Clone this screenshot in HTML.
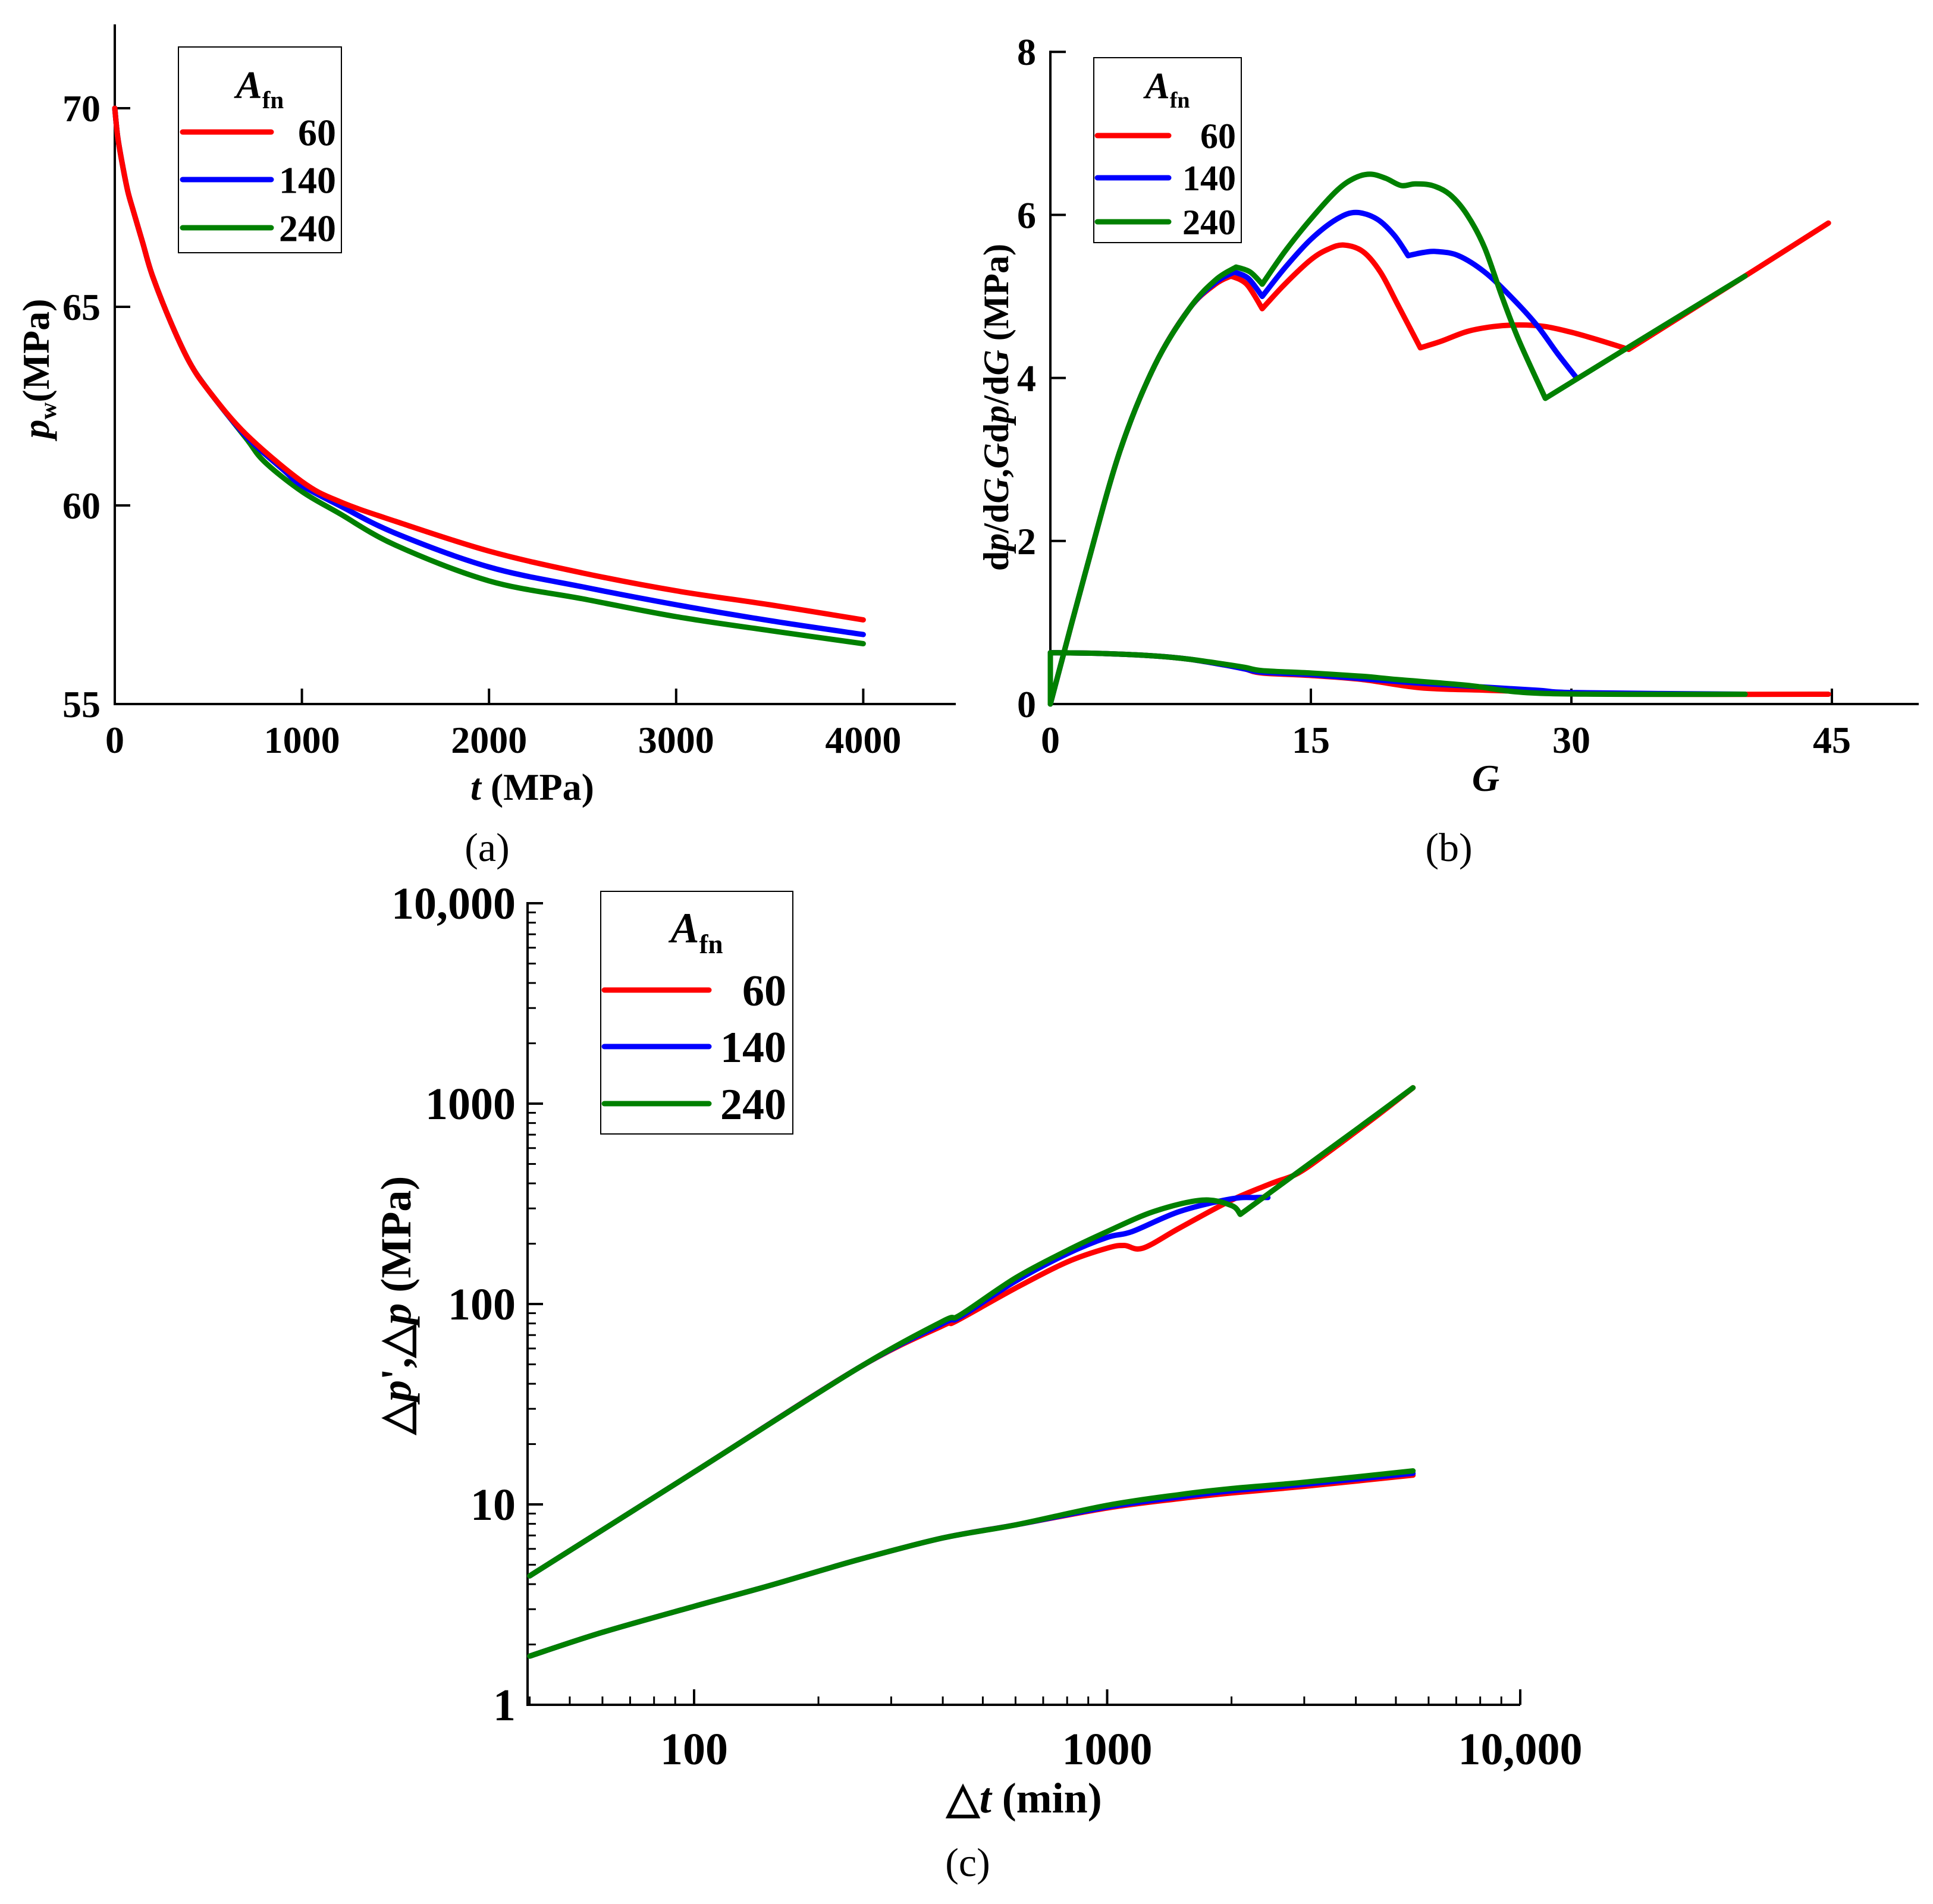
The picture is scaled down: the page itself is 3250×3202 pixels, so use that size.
<!DOCTYPE html>
<html><head><meta charset="utf-8"><style>
html,body{margin:0;padding:0;background:#fff}
svg{display:block}
text{font-family:"Liberation Serif",serif;fill:#000}
.tk{font-weight:bold}
</style></head><body>
<svg id="fig" width="3250" height="3202" viewBox="0 0 3250 3202" xmlns="http://www.w3.org/2000/svg"></svg>
<script>
// ---------- Panel (a) data ----------
const aT_red=[0,15,40,70,100,150,200,300,400,500,700,1000,1200,1500,2000,2500,3000,3500,4000];
const aP_red=[70,69.3,68.6,67.9,67.4,66.6,65.8,64.6,63.6,62.9,61.8,60.6,60.1,59.6,58.85,58.3,57.85,57.5,57.12];
const aT_blue=[0,15,40,70,100,150,200,300,400,500,700,900,1000,1200,1500,2000,2500,3000,3500,4000];
const aP_blue=[70,69.3,68.6,67.9,67.4,66.6,65.8,64.6,63.6,62.9,61.75,60.9,60.5,60.0,59.3,58.45,57.95,57.5,57.1,56.75];
const aT_green=[0,15,40,70,100,150,200,300,400,500,700,800,1000,1200,1500,2000,2500,3000,3500,4000];
const aP_green=[70,69.3,68.6,67.9,67.4,66.6,65.8,64.6,63.6,62.9,61.7,61.1,60.35,59.8,59.0,58.1,57.65,57.2,56.85,56.52];
const aXTicks=[0,1000,2000,3000,4000];
const aYTicks=[55,60,65,70];
// ---------- Panel (b) data ----------
const bG_redUp=[0,2,4,6,8,9.5,10.4,11.3,12.2,13.5,15,16,16.9,18,19,20,21.3,22.5,24,25.5,27,28.5,30,31.5,33.3,40,44.8];
const bV_redUp=[0,1.6,3.1,4.15,4.85,5.15,5.25,5.15,4.85,5.15,5.45,5.58,5.63,5.55,5.3,4.9,4.37,4.45,4.57,4.63,4.65,4.63,4.56,4.47,4.35,5.25,5.9];
const bG_blueUp=[0,2,4,6,8,9.5,10.6,11.4,12.2,13.5,15,16.5,17.6,18.8,19.8,20.6,21.5,22.3,23.5,25,26.5,28,29.2,30.3];
const bV_blueUp=[0,1.6,3.1,4.15,4.85,5.17,5.3,5.22,5.0,5.35,5.7,5.95,6.03,5.95,5.75,5.5,5.54,5.55,5.5,5.3,5.0,4.65,4.3,4.0];
const bG_greenUp=[0,2,4,6,8,9.5,10.7,11.5,12.2,13.5,15,16.5,17.5,18.4,19.3,20.2,21,22,23,24,25,26,27,28.5,34,40];
const bV_greenUp=[0,1.6,3.1,4.15,4.85,5.2,5.36,5.3,5.15,5.55,5.95,6.3,6.45,6.5,6.45,6.36,6.38,6.36,6.25,6.0,5.6,5.0,4.45,3.75,4.47,5.25];
const bG_redLo=[0,3,6,8,10,11.2,12.2,15,18,21.3,25,28,33,44.8];
const bV_redLo=[0.63,0.62,0.59,0.55,0.48,0.43,0.38,0.35,0.3,0.2,0.17,0.15,0.12,0.12];
const bG_blueLo=[0,3,6,8,10,11.2,12.2,15,18,21,24,28,30.3,40];
const bV_blueLo=[0.63,0.62,0.59,0.55,0.48,0.43,0.39,0.36,0.31,0.26,0.22,0.17,0.14,0.12];
const bG_greenLo=[0,0,3,6,8,10,11.2,12.2,15,18,20,24,28.5,40];
const bV_greenLo=[0,0.63,0.62,0.59,0.55,0.49,0.45,0.41,0.38,0.34,0.3,0.23,0.13,0.12];
const bXTicks=[0,15,30,45];
const bYTicks=[0,2,4,6,8];
// ---------- Panel (c) data ----------
const cT_redUp=[40,100,250,400,430,600,800,1000,1100,1220,1500,2000,2500,2900,3500,4500,5500];
const cV_redUp=[4.4,14.5,48,78,82,120,162,190,196,190,240,330,400,450,590,870,1200];
const cT_blueUp=[40,100,250,400,440,600,800,1000,1150,1500,2000,2300,2450];
const cV_blueUp=[4.4,14.5,48,80,86,130,178,215,230,290,335,340,340];
const cT_greenUp=[40,100,250,400,440,600,800,1000,1300,1700,2000,2100,3000,4000,5500];
const cV_greenUp=[4.4,14.5,48,82,88,135,185,230,290,330,310,280,480,740,1200];
const cT_redLo=[40,60,100,150,250,400,600,1000,1500,2000,3000,5500];
const cV_redLo=[1.75,2.3,3.1,3.9,5.3,6.8,7.9,9.6,10.7,11.4,12.3,14.0];
const cT_blueLo=[40,60,100,150,250,400,600,1000,1500,2000,3000,5500];
const cV_blueLo=[1.75,2.3,3.1,3.9,5.3,6.8,7.9,9.7,10.9,11.7,12.6,14.3];
const cT_greenLo=[40,60,100,150,250,400,600,1000,1500,2000,3000,5500];
const cV_greenLo=[1.75,2.3,3.1,3.9,5.3,6.8,7.9,9.9,11.2,12.0,12.9,14.7];
const cXTicks=[100,1000,10000];
const cXLabels=["100","1000","10,000"];
const cYTicks=[1,10,100,1000,10000];
const cYLabels=["1","10","100","1000","10,000"];

const NS="http://www.w3.org/2000/svg";
const svg=document.getElementById('fig');
function mk(tag,attrs,parent){const e=document.createElementNS(NS,tag);for(const k in attrs)e.setAttribute(k,attrs[k]);(parent||svg).appendChild(e);return e;}
function txt(x,y,s,size,anchor,parent,extra){const t=mk('text',Object.assign({x:x,y:y,'font-size':size,'text-anchor':anchor||'middle'},extra||{}),parent);t.textContent=s;return t;}
const RED='#ff0000',BLUE='#0000ff',GREEN='#008000';
function line(xs,ys,fx,fy,color,w,name,parent){
  const P=xs.map((x,i)=>[fx(x),fy(ys[i])]);
  const n=P.length;
  const corner=P.map((p,i)=>{
    if(i===0||i===n-1)return true;
    const a=[p[0]-P[i-1][0],p[1]-P[i-1][1]],b=[P[i+1][0]-p[0],P[i+1][1]-p[1]];
    const la=Math.hypot(a[0],a[1]),lb=Math.hypot(b[0],b[1]);
    if(la<1e-6||lb<1e-6)return true;
    const c=(a[0]*b[0]+a[1]*b[1])/(la*lb);
    return c<Math.cos(40*Math.PI/180);
  });
  let d='M'+P[0][0].toFixed(1)+','+P[0][1].toFixed(1);
  const t=1/6;
  for(let i=0;i<n-1;i++){
    const p1=P[i],p2=P[i+1];
    const p0=corner[i]?p1:P[i-1];
    const p3=corner[i+1]?p2:P[i+2];
    const c1=[p1[0]+(p2[0]-p0[0])*t,p1[1]+(p2[1]-p0[1])*t];
    const c2=[p2[0]-(p3[0]-p1[0])*t,p2[1]-(p3[1]-p1[1])*t];
    d+=' C'+c1[0].toFixed(1)+','+c1[1].toFixed(1)+' '+c2[0].toFixed(1)+','+c2[1].toFixed(1)+' '+p2[0].toFixed(1)+','+p2[1].toFixed(1);
  }
  const p=mk('path',{d:d,fill:'none',stroke:color,'stroke-width':w,'stroke-linejoin':'round','stroke-linecap':'round'},parent);
  
  
  return p;
}
function legend(g,x0,y0,w,h,ty,rows,lx0,lx1,labR,fs,tfs,lw){
  const lg=mk('g',{},g);
  
  
  mk('rect',{x:x0,y:y0,width:w,height:h,fill:'#fff',stroke:'#000','stroke-width':2},lg);
  const t=mk('text',{x:(x0+w/2),y:ty,'font-size':tfs,'text-anchor':'middle','font-weight':'bold'},lg);
  t.innerHTML='<tspan font-style="italic">A</tspan><tspan font-size="'+Math.round(tfs*0.62)+'" dy="'+Math.round(tfs*0.25)+'">fn</tspan>';
  const labs=['60','140','240'],cols=[RED,BLUE,GREEN];
  rows.forEach((ry,i)=>{
    const e=mk('g',{},lg);
    
    
    mk('line',{x1:lx0,y1:ry,x2:lx1,y2:ry,stroke:cols[i],'stroke-width':lw,'stroke-linecap':'round'},e);
    txt(labR,ry+fs*0.35,labs[i],fs,'end',e,{'font-weight':'bold'});
  });
}

// ---------- Panel (a) ----------
(function(){
  const g=mk('g',{});
  const X0=193,XK=314.6/1000,Y0=1184,YK=66.8;
  const fx=t=>X0+t*XK, fy=p=>Y0-(p-55)*YK;
  mk('line',{x1:X0,y1:41,x2:X0,y2:Y0+2,stroke:'#000','stroke-width':4},g);
  mk('line',{x1:X0-2,y1:Y0,x2:1607,y2:Y0,stroke:'#000','stroke-width':4},g);
  aXTicks.forEach(v=>{mk('line',{x1:fx(v),y1:Y0,x2:fx(v),y2:Y0-26,stroke:'#000','stroke-width':4},g);
    txt(fx(v),Y0+82,String(v),64,'middle',g,{class:'tk'});});
  aYTicks.forEach(v=>{mk('line',{x1:X0,y1:fy(v),x2:X0+26,y2:fy(v),stroke:'#000','stroke-width':4},g);
    txt(X0-24,fy(v)+22,String(v),64,'end',g,{class:'tk'});});
  line(aT_green,aP_green,fx,fy,GREEN,9,'series-240',g);
  line(aT_blue,aP_blue,fx,fy,BLUE,9,'series-140',g);
  line(aT_red,aP_red,fx,fy,RED,9,'series-60',g);
  const xt=mk('text',{x:895,y:1345,'font-size':64,'text-anchor':'middle','font-weight':'bold'},g);
  xt.innerHTML='<tspan font-style="italic">t</tspan> (MPa)';
  const yt=mk('text',{x:0,y:0,'font-size':64,'text-anchor':'middle','font-weight':'bold',transform:'translate(82,620) rotate(-90)'},g);
  yt.innerHTML='<tspan font-style="italic">p</tspan><tspan font-size="40" dy="12">w</tspan><tspan dy="-12">(MPa)</tspan>';
  txt(819,1448,'(a)',68,'middle',g);
  legend(g,300,79,274,346,165,[222,302,383],307,456,565,64,66,9);
})();

// ---------- Panel (b) ----------
(function(){
  const g=mk('g',{});
  const X0=1766,XK=29.2,Y0=1184,YK=137.1;
  const fx=v=>X0+v*XK, fy=v=>Y0-v*YK;
  mk('line',{x1:X0,y1:fy(8)-2,x2:X0,y2:Y0+2,stroke:'#000','stroke-width':4},g);
  mk('line',{x1:X0-2,y1:Y0,x2:3226,y2:Y0,stroke:'#000','stroke-width':4},g);
  bXTicks.forEach(v=>{mk('line',{x1:fx(v),y1:Y0,x2:fx(v),y2:Y0-26,stroke:'#000','stroke-width':4},g);
    txt(fx(v),Y0+82,String(v),64,'middle',g,{class:'tk'});});
  bYTicks.forEach(v=>{mk('line',{x1:X0,y1:fy(v),x2:X0+26,y2:fy(v),stroke:'#000','stroke-width':4},g);
    txt(X0-24,fy(v)+22,String(v),64,'end',g,{class:'tk'});});
  line(bG_redUp,bV_redUp,fx,fy,RED,9,'series-60-gdpdg',g);
  line(bG_redLo,bV_redLo,fx,fy,RED,9,'series-60-dpdg',g);
  line(bG_blueUp,bV_blueUp,fx,fy,BLUE,9,'series-140-gdpdg',g);
  line(bG_blueLo,bV_blueLo,fx,fy,BLUE,9,'series-140-dpdg',g);
  line(bG_greenUp,bV_greenUp,fx,fy,GREEN,9,'series-240-gdpdg',g);
  line(bG_greenLo,bV_greenLo,fx,fy,GREEN,9,'series-240-dpdg',g);
  const xt=mk('text',{x:2498,y:1330,'font-size':64,'text-anchor':'middle','font-weight':'bold','font-style':'italic'},g);
  xt.textContent='G';
  const yt=mk('text',{x:0,y:0,'font-size':60,'text-anchor':'middle','font-weight':'bold',transform:'translate(1695,685) rotate(-90)'},g);
  yt.innerHTML='d<tspan font-style="italic">p</tspan>/d<tspan font-style="italic">G</tspan>,<tspan font-style="italic">G</tspan>d<tspan font-style="italic">p</tspan>/d<tspan font-style="italic">G</tspan> (MPa)';
  
  txt(2436,1448,'(b)',68,'middle',g);
  legend(g,1839,97,248,311,165,[228,299,373],1845,1965,2078,60,62,9);
})();

// ---------- Panel (c) ----------
(function(){
  const g=mk('g',{});
  const XL=887,XR=2556,XD=694.5,Y1=2867,YD=337;
  const fx=v=>1167+(Math.log10(v)-2)*XD, fy=v=>Y1-Math.log10(v)*YD;
  mk('line',{x1:XL,y1:fy(10000)-2,x2:XL,y2:Y1+2,stroke:'#000','stroke-width':4},g);
  mk('line',{x1:XL-2,y1:Y1,x2:XR,y2:Y1,stroke:'#000','stroke-width':4},g);
  mk('line',{x1:XR,y1:Y1,x2:XR,y2:Y1-26,stroke:'#000','stroke-width':4},g);
  cXTicks.forEach((v,i)=>{mk('line',{x1:fx(v),y1:Y1,x2:fx(v),y2:Y1-26,stroke:'#000','stroke-width':4},g);
    txt(fx(v),Y1+100,cXLabels[i],76,'middle',g,{class:'tk'});});
  [1,10,100,1000].forEach(d=>{for(let k=2;k<=9;k++){const v=d*k*10;if(v<40||v>10000)continue;
    mk('line',{x1:fx(v),y1:Y1,x2:fx(v),y2:Y1-14,stroke:'#000','stroke-width':3},g);}});
  cYTicks.forEach((v,i)=>{mk('line',{x1:XL,y1:fy(v),x2:XL+26,y2:fy(v),stroke:'#000','stroke-width':4},g);
    txt(XL-20,fy(v)+26,cYLabels[i],76,'end',g,{class:'tk'});});
  [1,10,100,1000].forEach(d=>{for(let k=2;k<=9;k++){mk('line',{x1:XL,y1:fy(d*k),x2:XL+14,y2:fy(d*k),stroke:'#000','stroke-width':3},g);}});
  line(cT_redUp,cV_redUp,fx,fy,RED,9,'series-60-derivative',g);
  line(cT_redLo,cV_redLo,fx,fy,RED,9,'series-60-pressure',g);
  line(cT_blueUp,cV_blueUp,fx,fy,BLUE,9,'series-140-derivative',g);
  line(cT_blueLo,cV_blueLo,fx,fy,BLUE,9,'series-140-pressure',g);
  line(cT_greenUp,cV_greenUp,fx,fy,GREEN,9,'series-240-derivative',g);
  line(cT_greenLo,cV_greenLo,fx,fy,GREEN,9,'series-240-pressure',g);
  const xt=mk('text',{x:1722,y:3048,'font-size':72,'text-anchor':'middle','font-weight':'bold'},g);
  xt.innerHTML='△<tspan font-style="italic">t</tspan> (min)';
  const yt=mk('text',{x:0,y:0,'font-size':72,'text-anchor':'middle','font-weight':'bold',transform:'translate(690,2195) rotate(-90)'},g);
  yt.innerHTML='△<tspan font-style="italic">p</tspan>\',△<tspan font-style="italic">p</tspan> (MPa)';
  
  txt(1627,3155,'(c)',68,'middle',g);
  legend(g,1010,1499,323,408,1585,[1665,1760,1856],1016,1192,1322,74,72,9);
})();
</script>
</body></html>
